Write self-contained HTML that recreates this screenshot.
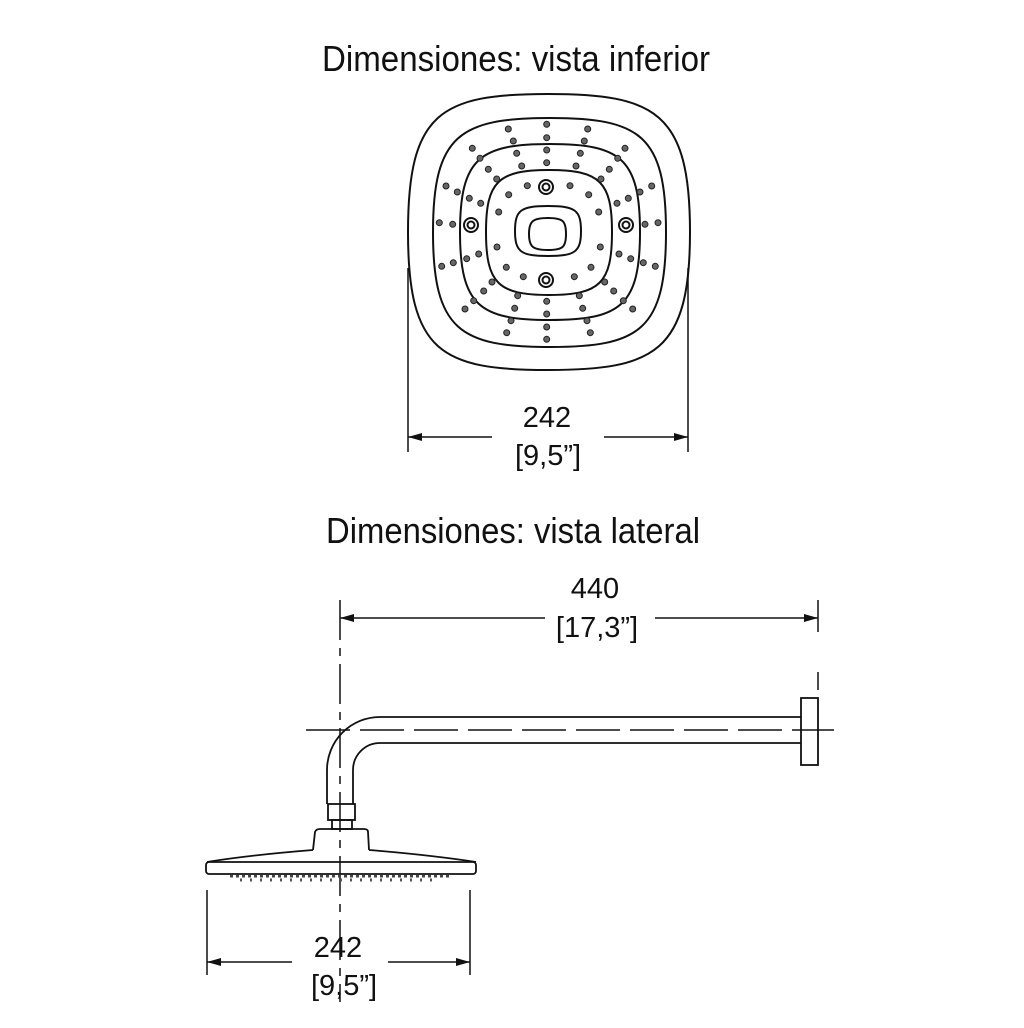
<!DOCTYPE html>
<html><head><meta charset="utf-8"><style>html,body{margin:0;padding:0;background:#fff}svg{display:block}</style></head>
<body>
<svg width="1024" height="1028" viewBox="0 0 1024 1028" xmlns="http://www.w3.org/2000/svg" font-family="Liberation Sans, Arial, sans-serif">
<rect width="1024" height="1028" fill="#fff"/>
<g fill="#111" text-anchor="middle">
<text x="516" y="71" font-size="36" textLength="388" lengthAdjust="spacingAndGlyphs">Dimensiones: vista inferior</text>
<text x="547" y="427" font-size="29">242</text>
<text x="548" y="465" font-size="29">[9,5”]</text>
<text x="513" y="543" font-size="36" textLength="374" lengthAdjust="spacingAndGlyphs">Dimensiones: vista lateral</text>
<text x="595" y="598" font-size="29">440</text>
<text x="597" y="637" font-size="29">[17,3”]</text>
<text x="338" y="957" font-size="29">242</text>
<text x="344" y="995" font-size="29">[9,5”]</text>
</g>
<g fill="none" stroke="#111" stroke-width="2">
<path d="M548,94 C655,94 690,112 690,232 C690,352 655,370 548,370 C441,370 408,352 408,232 C408,112 441,94 548,94 Z"/>
<path d="M550,118 C640,118 666,135 666,232 C666,330 640,347 550,347 C460,347 433,330 433,232 C433,135 460,118 550,118 Z"/>
<path d="M550,144 C620,144 640,158 640,232 C640,306 620,320 550,320 C480,320 460,306 460,232 C460,158 480,144 550,144 Z"/>
<path d="M549,170 C600,170 612,182 612,232 C612,283 600,295 549,295 C498,295 486,283 486,232 C486,182 498,170 549,170 Z"/>
<path d="M548,206 C575,206 581,210 581,231 C581,252 575,256 548,256 C521,256 515,252 515,231 C515,210 521,206 548,206 Z"/>
<path d="M548,218 C563,218 566,221 566,234 C566,247 563,250 548,250 C533,250 529,247 529,234 C529,221 533,218 548,218 Z"/>
<circle cx="546" cy="187" r="7"/><circle cx="546" cy="187" r="3.5"/>
<circle cx="546" cy="280" r="7"/><circle cx="546" cy="280" r="3.5"/>
<circle cx="471" cy="225" r="7"/><circle cx="471" cy="225" r="3.5"/>
<circle cx="626" cy="225" r="7"/><circle cx="626" cy="225" r="3.5"/>
</g>
<g fill="#666" stroke="#222" stroke-width="1">
<circle cx="546.7" cy="124.3" r="3"/><circle cx="508.3" cy="129" r="3"/><circle cx="587.7" cy="129" r="3"/>
<circle cx="513.3" cy="141" r="3"/><circle cx="546.7" cy="137.7" r="3"/><circle cx="584.3" cy="141" r="3"/>
<circle cx="472.3" cy="148.3" r="3"/><circle cx="625" cy="148.3" r="3"/><circle cx="516.7" cy="153.3" r="3"/>
<circle cx="546.7" cy="150" r="3"/><circle cx="580.3" cy="153.3" r="3"/><circle cx="480" cy="158.3" r="3"/>
<circle cx="617.7" cy="158.3" r="3"/><circle cx="521.7" cy="166" r="3"/><circle cx="546.7" cy="162.7" r="3"/>
<circle cx="576" cy="166" r="3"/><circle cx="488.3" cy="169.3" r="3"/><circle cx="609.3" cy="169.3" r="3"/>
<circle cx="496.7" cy="179" r="3"/><circle cx="601" cy="179" r="3"/><circle cx="527.3" cy="185.7" r="3"/>
<circle cx="570" cy="185.7" r="3"/><circle cx="446" cy="186" r="3"/><circle cx="651.7" cy="186" r="3"/>
<circle cx="457.3" cy="192" r="3"/><circle cx="640" cy="192" r="3"/><circle cx="508.7" cy="194.7" r="3"/>
<circle cx="588.7" cy="194.7" r="3"/><circle cx="469.3" cy="198.3" r="3"/><circle cx="628.3" cy="198.3" r="3"/>
<circle cx="480.7" cy="203.3" r="3"/><circle cx="617" cy="203.3" r="3"/><circle cx="498.7" cy="212" r="3"/>
<circle cx="598.7" cy="212" r="3"/><circle cx="439.3" cy="222.7" r="3"/><circle cx="452.7" cy="224.3" r="3"/>
<circle cx="645" cy="224.3" r="3"/><circle cx="658" cy="222.7" r="3"/><circle cx="497" cy="247" r="3"/>
<circle cx="600.3" cy="247" r="3"/><circle cx="478.7" cy="254" r="3"/><circle cx="619" cy="254" r="3"/>
<circle cx="466.7" cy="258.7" r="3"/><circle cx="630.7" cy="258.7" r="3"/><circle cx="453.3" cy="262.7" r="3"/>
<circle cx="643.3" cy="262.7" r="3"/><circle cx="441.7" cy="266.3" r="3"/><circle cx="655.3" cy="266.3" r="3"/>
<circle cx="506.3" cy="267.3" r="3"/><circle cx="591" cy="267.3" r="3"/><circle cx="523.3" cy="276.7" r="3"/>
<circle cx="574.3" cy="276.7" r="3"/><circle cx="492" cy="282" r="3"/><circle cx="604.7" cy="282" r="3"/>
<circle cx="483.7" cy="291" r="3"/><circle cx="613.7" cy="291" r="3"/><circle cx="517.7" cy="295.7" r="3"/>
<circle cx="579.3" cy="295.7" r="3"/><circle cx="546.7" cy="301.3" r="3"/><circle cx="473.7" cy="300.7" r="3"/>
<circle cx="623.3" cy="300.7" r="3"/><circle cx="514.7" cy="308.3" r="3"/><circle cx="582.7" cy="308.3" r="3"/>
<circle cx="465" cy="309" r="3"/><circle cx="632.7" cy="309" r="3"/><circle cx="546.7" cy="314" r="3"/>
<circle cx="511" cy="320.7" r="3"/><circle cx="587" cy="320.7" r="3"/><circle cx="546.7" cy="327" r="3"/>
<circle cx="506.7" cy="332.7" r="3"/><circle cx="590.3" cy="332.7" r="3"/><circle cx="546.7" cy="339.3" r="3"/>
</g>
<g fill="none" stroke="#111" stroke-width="1.5">
<line x1="408" y1="268" x2="408" y2="452"/>
<line x1="688" y1="268" x2="688" y2="452"/>
<line x1="408" y1="437" x2="492" y2="437"/>
<line x1="604" y1="437" x2="688" y2="437"/>
<line x1="340" y1="618" x2="545" y2="618"/>
<line x1="655" y1="618" x2="818" y2="618"/>
<line x1="818" y1="600" x2="818" y2="632"/>
<line x1="818" y1="672" x2="818" y2="690"/>
<line x1="340" y1="600" x2="340" y2="1002" stroke-dasharray="40,8,8,8"/>
<line x1="306" y1="730" x2="834" y2="730" stroke-dasharray="44,10"/>
<line x1="207" y1="890" x2="207" y2="975"/>
<line x1="470" y1="890" x2="470" y2="975"/>
<line x1="207" y1="962" x2="292" y2="962"/>
<line x1="388" y1="962" x2="470" y2="962"/>
</g>
<g fill="#111">
<polygon points="408,437 422,433 422,441"/>
<polygon points="688,437 674,433 674,441"/>
<polygon points="340,618 354,614 354,622"/>
<polygon points="818,618 804,614 804,622"/>
<polygon points="207,962 221,958 221,966"/>
<polygon points="470,962 456,958 456,966"/>
</g>
<g fill="none" stroke="#111" stroke-width="1.8">
<path d="M327,804 L327,770 A53,53 0 0 1 380,717 L801,717"/>
<path d="M353,804 L353,770 A27,27 0 0 1 380,743 L801,743"/>
<rect x="801" y="698" width="17" height="67"/>
<rect x="328" y="804" width="27" height="16"/>
<rect x="332" y="820" width="20" height="9"/>
<path d="M313,850 L315,832 Q316,829 320,829 L364,829 Q368,829 368,832 L369,850"/>
<path d="M207,862 Q250,855 313,850 M369,850 Q430,855 476,862"/>
<rect x="206" y="862" width="270" height="12" rx="3"/>
<path d="M230,876 L450,876" stroke="#444" stroke-width="3" stroke-dasharray="3,3"/>
<path d="M240,880 L440,880" stroke="#555" stroke-width="3" stroke-dasharray="2,8"/>
</g>
</svg>
</body></html>
